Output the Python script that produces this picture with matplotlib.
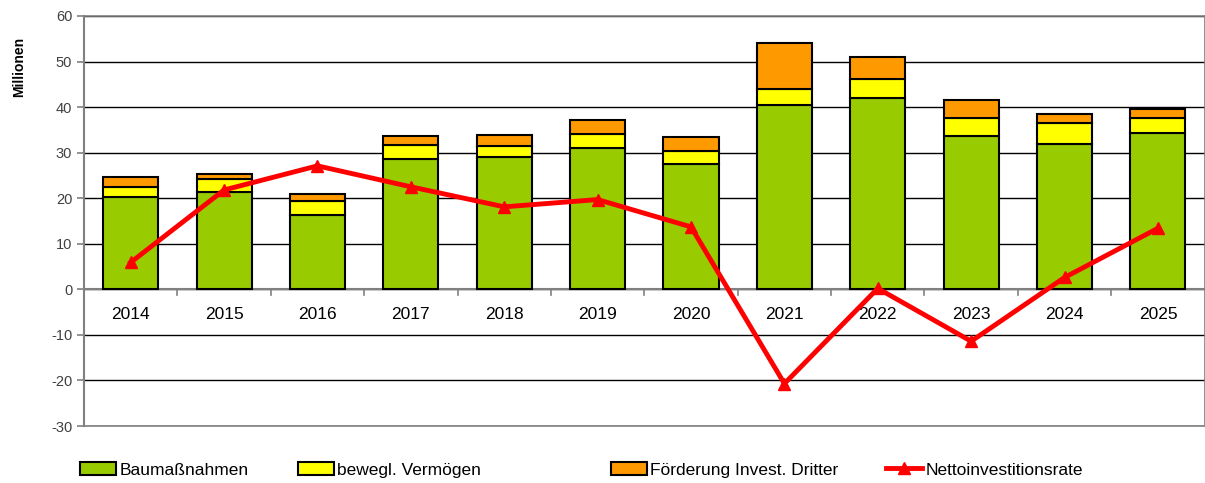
import matplotlib
matplotlib.use("Agg")
import matplotlib.pyplot as plt
import numpy as np
from matplotlib.lines import Line2D
from matplotlib.patches import Patch

plt.rcParams['font.family'] = ['Liberation Sans', 'DejaVu Sans']

years = ["2014", "2015", "2016", "2017", "2018", "2019", "2020", "2021", "2022", "2023", "2024", "2025"]
baumassnahmen = [20.3, 21.3, 16.3, 28.6, 29.1, 31.0, 27.4, 40.5, 42.0, 33.6, 32.0, 34.4]
bewegl_vermoegen = [2.1, 2.9, 3.0, 3.0, 2.3, 3.1, 2.9, 3.4, 4.2, 4.0, 4.6, 3.3]
foerderung = [2.3, 1.2, 1.7, 2.1, 2.5, 3.0, 3.2, 10.2, 4.8, 4.0, 1.8, 1.8]
nettoinvest = [5.9, 21.8, 27.1, 22.5, 18.1, 19.7, 13.7, -20.7, 0.2, -11.4, 2.6, 13.4]
yticks = [-30, -20, -10, 0, 10, 20, 30, 40, 50, 60]

fig = plt.figure(figsize=(12.05, 4.83), dpi=100)
ax = fig.add_axes([0.0697, 0.118, 0.930, 0.849])

x = np.arange(len(years))
w = 0.59
b1 = np.array(baumassnahmen)
b2 = np.array(bewegl_vermoegen)
b3 = np.array(foerderung)
ax.bar(x, b1, w, color='#99CC00', edgecolor='black', linewidth=1.5, zorder=3)
ax.bar(x, b2, w, bottom=b1, color='#FFFF00', edgecolor='black', linewidth=1.5, zorder=3)
ax.bar(x, b3, w, bottom=b1 + b2, color='#FF9900', edgecolor='black', linewidth=1.5, zorder=3)
ax.plot(x, nettoinvest, color='#FF0000', linewidth=3.5, marker='^', markersize=8, zorder=4)

ax.set_xlim(-0.5, len(years) - 0.5)
ax.set_ylim(-30, 60)
ax.set_yticks(yticks)
ax.set_yticklabels([str(v) for v in yticks], fontsize=10.5, color='#404040')
ax.yaxis.grid(True, color='black', linewidth=1.0, zorder=0)
ax.set_axisbelow(True)
for s in ['top', 'right', 'bottom']:
    ax.spines[s].set_color('#808080')
    ax.spines[s].set_linewidth(1.2)
ax.spines['left'].set_color('#808080')
ax.spines['left'].set_linewidth(1.5)
ax.tick_params(axis='y', length=5, color='#808080', width=1.2)

# x axis at zero
ax.set_xticks([])
for xb in np.arange(0.5, len(years) - 0.5, 1.0):
    ax.plot([xb, xb], [0, -1.2], color='#808080', linewidth=1.2, zorder=2, clip_on=False)
ax.axhline(0, color='#808080', linewidth=1.5, zorder=2)
for xi, lab in zip(x, years):
    ax.text(xi, -3.9, lab, ha='center', va='top', fontsize=12.5, color='black')

ax.set_ylabel('Millionen', fontsize=10, fontweight='bold')
ax.yaxis.set_label_coords(-0.052, 0.876)

handles = [
    Patch(facecolor='#99CC00', edgecolor='black', linewidth=1.5),
    Patch(facecolor='#FFFF00', edgecolor='black', linewidth=1.5),
    Patch(facecolor='#FF9900', edgecolor='black', linewidth=1.5),
    Line2D([0], [0], color='#FF0000', linewidth=3.5, marker='^', markersize=8),
]
labels = ['Baumaßnahmen', 'bewegl. Vermögen', 'Förderung Invest. Dritter', 'Nettoinvestitionsrate']
x_px = [80, 298, 611, 886]
for h, lab, xp in zip(handles, labels, x_px):
    fig.legend([h], [lab], loc='center left', bbox_to_anchor=(xp / 1205, 0.027), frameon=False,
               fontsize=12.5, handlelength=2.07, handleheight=0.75, handletextpad=0.2,
               borderpad=0, borderaxespad=0)

fig.savefig('out.png', dpi=100)
